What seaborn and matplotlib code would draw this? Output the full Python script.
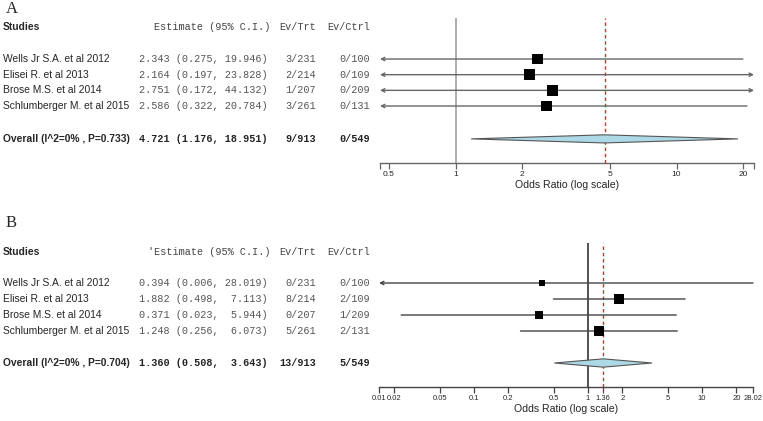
import numpy as np
import pandas as pd
import matplotlib
matplotlib.use("Agg")
import matplotlib.pyplot as plt
from matplotlib.transforms import blended_transform_factory
import seaborn as sns

# -------------------------
# Datos
# -------------------------
studies = ["Wells Jr S.A. et al 2012", "Elisei R. et al 2013",
           "Brose M.S. et al 2014", "Schlumberger M. et al 2015"]

# Panel A
est_a = [2.343, 2.164, 2.751, 2.586]
lo_a = [0.275, 0.197, 0.172, 0.322]
hi_a = [19.946, 23.828, 44.132, 20.784]
ev_trt_a = ["3/231", "2/214", "1/207", "3/261"]
ev_ctrl_a = ["0/100", "0/109", "0/209", "0/131"]
weights_a = [1.0, 1.0, 1.0, 1.0]
overall_a = [4.721, 1.176, 18.951]
overall_ev_a = ["9/913", "0/549"]
overall_label_a = "Overall (I^2=0% , P=0.733)"
xlim_a = [0.455, 22.4]
ticks_a = [0.455, 0.5, 1, 2, 5, 10, 20, 22.4]
ticklabels_a = ["", "0.5", "1", "2", "5", "10", "20", ""]

# Panel B
est_b = [0.394, 1.882, 0.371, 1.248]
lo_b = [0.006, 0.498, 0.023, 0.256]
hi_b = [28.019, 7.113, 5.944, 6.073]
ev_trt_b = ["0/231", "8/214", "0/207", "5/261"]
ev_ctrl_b = ["0/100", "2/109", "1/209", "2/131"]
weights_b = [0.31, 0.87, 0.47, 0.76]
overall_b = [1.360, 0.508, 3.643]
overall_ev_b = ["13/913", "5/549"]
overall_label_b = "Overall (I^2=0% , P=0.704)"
xlim_b = [0.0147, 28.02]
ticks_b = [0.0147, 0.02, 0.05, 0.1, 0.2, 0.5, 1, 1.36, 2, 5, 10, 20, 28.02]
ticklabels_b = ["0.01", "0.02", "0.05", "0.1", "0.2", "0.5", "1", "1.36", "2",
                "5", "10", "20", "28.02"]

W, H = 763, 421

sns.set_theme(style="white")
plt.rcParams['font.family'] = ['Liberation Sans', 'DejaVu Sans']
MONO = 'Liberation Mono'


def fx(px):
    return px / W


def draw_panel(fig, rect, ylim, rows, header_y, overall_y, est, lo, hi, ev_trt, ev_ctrl,
               weights, overall, overall_ev, overall_label, ticks, ticklabels, xlim,
               header_est, line_col, ref_col, letter, letter_y, tick_fs):
    ax = fig.add_axes(rect)
    ax.set_xscale("log")
    ax.set_xlim(*xlim)
    ax.set_ylim(*ylim)
    tr = blended_transform_factory(fig.transFigure, ax.transData)

    # lineas de referencia
    ax.axvline(1, color=ref_col, lw=1.1, zorder=1)
    ax.axvline(overall[0], color="#d03030", lw=1.0, ls=(0, (2.5, 2)), zorder=1)

    # intervalos de confianza (flechas si salen del eje)
    for y, l, h in zip(rows, lo, hi):
        left = l < xlim[0]
        right = h > xlim[1]
        style = {(True, True): "<->", (True, False): "<-",
                 (False, True): "->", (False, False): "-"}[(left, right)]
        ax.annotate("", xy=(min(h, xlim[1]), y), xytext=(max(l, xlim[0]), y),
                    arrowprops=dict(arrowstyle=style, color=line_col, lw=1.0,
                                    shrinkA=0, shrinkB=0, mutation_scale=6),
                    zorder=2)

    # cuadrados
    df = pd.DataFrame({"est": est, "row": rows, "w": weights})
    sns.scatterplot(data=df, x="est", y="row", marker="s", color="black",
                    s=[60 * w for w in weights], edgecolor="black", linewidth=0,
                    ax=ax, legend=False, zorder=3)

    # diamante global
    hh = 0.26
    ax.fill([overall[1], overall[0], overall[2], overall[0]],
            [overall_y, overall_y - hh, overall_y, overall_y + hh],
            facecolor="#add8e6", edgecolor="#555555", lw=0.8, zorder=3)

    # eje
    for s in ["top", "left", "right"]:
        ax.spines[s].set_visible(False)
    ax.spines["bottom"].set_color(line_col)
    ax.spines["bottom"].set_linewidth(1.0)
    ax.set_xticks(ticks)
    ax.set_xticklabels(ticklabels, fontsize=tick_fs)
    ax.xaxis.set_minor_locator(matplotlib.ticker.NullLocator())
    ax.tick_params(axis="x", which="major", direction="out", length=4, width=0.9,
                   color=line_col, pad=2, bottom=True)
    ax.set_yticks([])
    ax.set_ylabel("")
    ax.set_xlabel("Odds Ratio (log scale)", fontsize=7.6, labelpad=1)

    # tabla de texto
    fs, mfs = 7.4, 7.3
    ax.text(fx(3), header_y, "Studies", transform=tr, fontsize=fs, fontweight="bold",
            va="center", ha="left")
    ax.text(fx(270), header_y, header_est, transform=tr, fontsize=mfs, family=MONO,
            color="#444444", va="center", ha="right")
    ax.text(fx(316), header_y, "Ev/Trt", transform=tr, fontsize=mfs, family=MONO,
            color="#444444", va="center", ha="right")
    ax.text(fx(370), header_y, "Ev/Ctrl", transform=tr, fontsize=mfs, family=MONO,
            color="#444444", va="center", ha="right")
    for y, name, e, l, h, t, c in zip(rows, studies, est, lo, hi, ev_trt, ev_ctrl):
        ax.text(fx(3), y, name, transform=tr, fontsize=fs, va="center", ha="left")
        ax.text(fx(268), y, f"{e:.3f} ({l:.3f}, {h:6.3f})", transform=tr, fontsize=mfs,
                family=MONO, color="#555555", va="center", ha="right")
        ax.text(fx(316), y, t, transform=tr, fontsize=mfs, family=MONO,
                color="#555555", va="center", ha="right")
        ax.text(fx(370), y, c, transform=tr, fontsize=mfs, family=MONO,
                color="#555555", va="center", ha="right")
    ax.text(fx(3), overall_y, overall_label, transform=tr, fontsize=fs, fontweight="bold",
            va="center", ha="left")
    ax.text(fx(268), overall_y, f"{overall[0]:.3f} ({overall[1]:.3f}, {overall[2]:6.3f})",
            transform=tr, fontsize=mfs, family=MONO, fontweight="bold", color="#222222",
            va="center", ha="right")
    ax.text(fx(316), overall_y, overall_ev[0], transform=tr, fontsize=mfs, family=MONO,
            fontweight="bold", color="#222222", va="center", ha="right")
    ax.text(fx(370), overall_y, overall_ev[1], transform=tr, fontsize=mfs, family=MONO,
            fontweight="bold", color="#222222", va="center", ha="right")

    fig.text(fx(6), 1 - letter_y / H, letter, fontsize=12, family="Liberation Serif",
             va="center", ha="left")
    return ax


fig = plt.figure(figsize=(W / 100, H / 100), dpi=100)

# Panel A: filas en y=1..4, global en 6.1
rows_a = [1, 2, 3, 4]
draw_panel(fig, [fx(380), 1 - 163 / H, fx(374), (163 - 18) / H], (7.64, -1.62),
           rows_a, -1.04, 6.1, est_a, lo_a, hi_a, ev_trt_a, ev_ctrl_a, weights_a,
           overall_a, overall_ev_a, overall_label_a, ticks_a, ticklabels_a, xlim_a,
           "Estimate (95% C.I.)", "#666666", "#999999", "A", 9, 6.0)

# Panel B
rows_b = [1, 2, 3, 4]
draw_panel(fig, [fx(379), 1 - 387 / H, fx(374), (387 - 243) / H], (7.5, -1.5),
           rows_b, -0.94, 6.0, est_b, lo_b, hi_b, ev_trt_b, ev_ctrl_b, weights_b,
           overall_b, overall_ev_b, overall_label_b, ticks_b, ticklabels_b, xlim_b,
           "'Estimate (95% C.I.)", "#444444", "#222222", "B", 223, 5.5)

fig.savefig("out.png", dpi=100, facecolor="white")
